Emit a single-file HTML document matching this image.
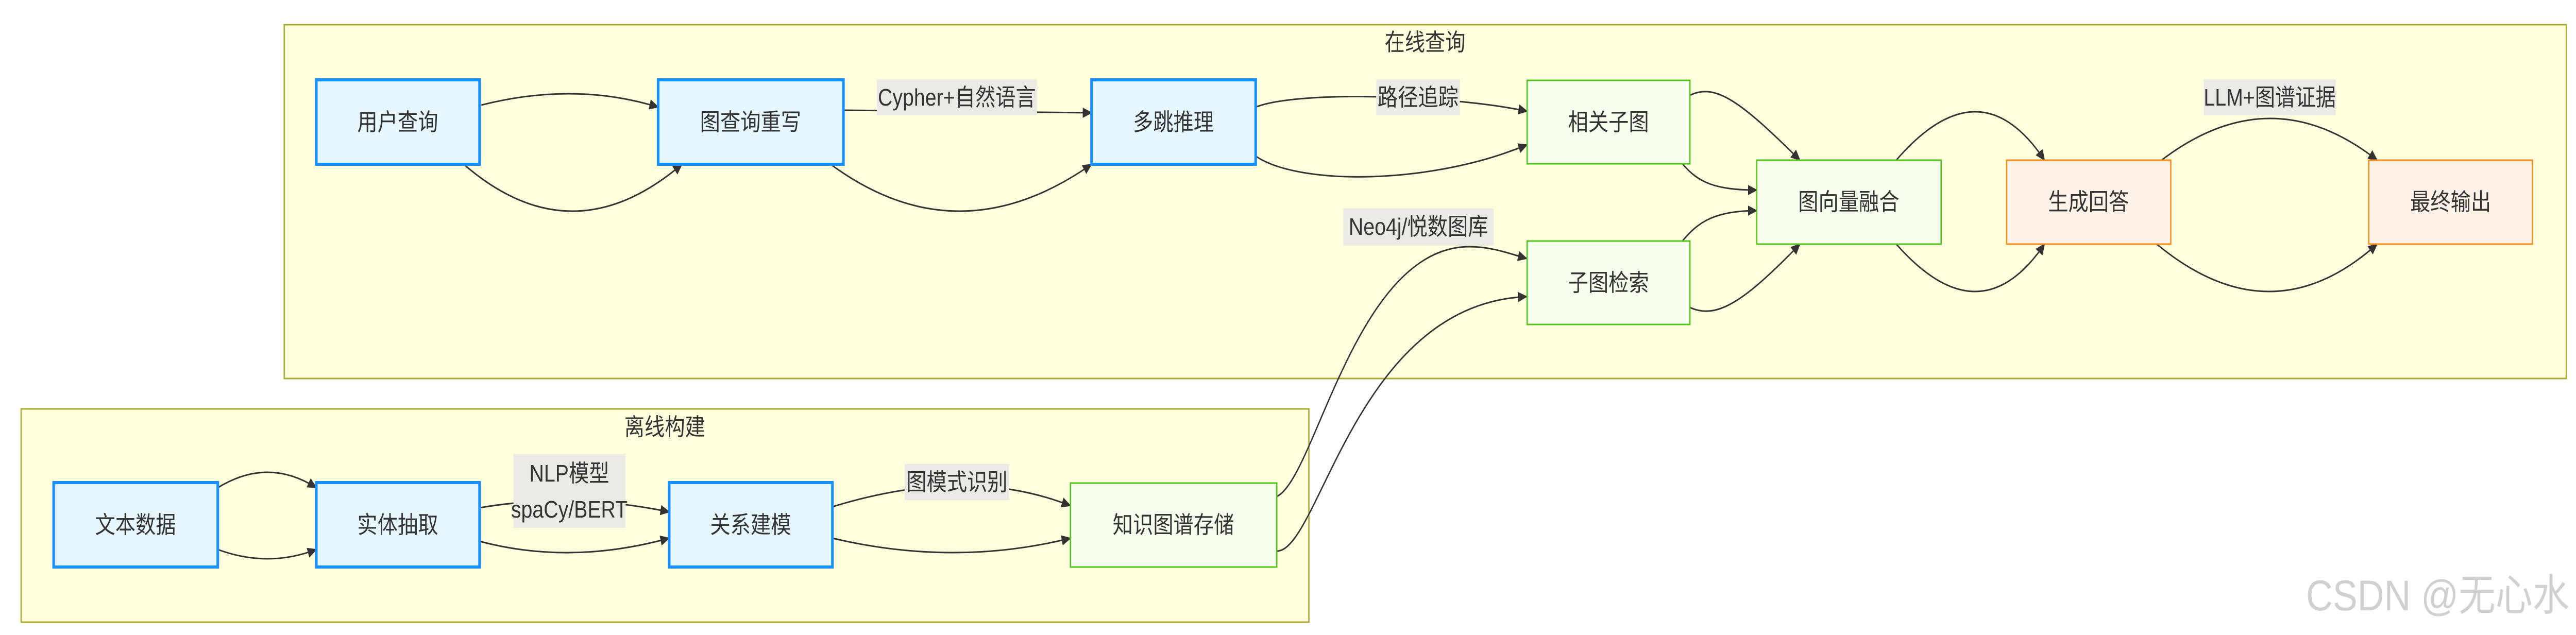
<!DOCTYPE html>
<html><head><meta charset="utf-8"><style>
html,body{margin:0;padding:0;background:#fff;width:100vw;height:100vh;overflow:hidden;}
svg{display:block;width:100vw;height:100vh;}
text{font-family:"Liberation Sans","Noto Sans CJK SC",sans-serif;fill:#333;}
</style></head><body>
<svg viewBox="0 0 5855 1233" preserveAspectRatio="none" xmlns="http://www.w3.org/2000/svg">
<defs>
<marker id="a" markerWidth="24" markerHeight="24" refX="20" refY="12" orient="auto" markerUnits="userSpaceOnUse">
<path d="M0,2 L22,12 L0,22 z" fill="#333"/>
</marker>
</defs>
<rect x="646" y="48" width="5187" height="687" fill="#ffffde" stroke="#aaaa33" stroke-width="3"/>
<rect x="48" y="794" width="2927" height="414" fill="#ffffde" stroke="#aaaa33" stroke-width="3"/>
<text x="3239" y="98" font-size="46" text-anchor="middle">在线查询</text>
<text x="1511" y="845" font-size="46" text-anchor="middle">离线构建</text>

<g fill="none" stroke="#333" stroke-width="3" marker-end="url(#a)">
<path d="M1094,204 Q1307,158 1496,208"/>
<path d="M1054,319 Q1300,501 1550,319"/>
<path d="M1917,214 L2481,219"/>
<path d="M1888,319 Q2177,501 2481,319"/>
<path d="M2854,208 C2950,175 3300,185 3471,216"/>
<path d="M2854,303 C2950,360 3250,360 3471,281"/>
<path d="M3841,185 C3900,160 3960,200 4091,311"/>
<path d="M3824,318 C3860,355 3900,369 3993,369"/>
<path d="M3824,468 C3860,430 3900,409 3993,409"/>
<path d="M3841,597 C3900,620 3960,590 4091,474"/>
<path d="M4310,311 Q4500,123 4647,311"/>
<path d="M4310,474 Q4500,658 4647,474"/>
<path d="M4913,311 Q5162,149 5403,311"/>
<path d="M4902,474 Q5162,658 5403,474"/>
<path d="M2902,964 C2990,930 3080,479 3340,479 C3390,479 3430,492 3470,502"/>
<path d="M2902,1070 C3000,1070 3080,590 3470,576"/>
<path d="M495,947 Q609,887 719,947"/>
<path d="M495,1067 Q609,1103 719,1067"/>
<path d="M1090,986 Q1300,955 1521,994"/>
<path d="M1090,1051 Q1296,1098 1521,1045"/>
<path d="M1892,984 Q2200,903 2433,982"/>
<path d="M1892,1045 Q2170,1101 2433,1045"/>
</g>

<g font-size="46" text-anchor="middle">
<rect x="1993" y="154" width="364" height="70" fill="#eaeae5"/>
<text x="2175" y="205">Cypher+自然语言</text>
<rect x="3128" y="154" width="190" height="70" fill="#eaeae5"/>
<text x="3223" y="205">路径追踪</text>
<rect x="3053" y="405" width="342" height="72" fill="#eaeae5"/>
<text x="3224" y="456">Neo4j/悦数图库</text>
<rect x="5009" y="154" width="300" height="70" fill="#eaeae5"/>
<text x="5159" y="205">LLM+图谱证据</text>
<rect x="1167" y="882" width="255" height="143" fill="#eaeae5"/>
<text x="1294" y="935">NLP模型</text>
<text x="1294" y="1005">spaCy/BERT</text>
<rect x="2056" y="901" width="238" height="70" fill="#eaeae5"/>
<text x="2175" y="952">图模式识别</text>
</g>

<g font-size="46" text-anchor="middle">
<g fill="#e6f7ff" stroke="#1890ff" stroke-width="6">
<rect x="719" y="155" width="371" height="164"/>
<rect x="1496" y="155" width="421" height="164"/>
<rect x="2481" y="155" width="373" height="164"/>
<rect x="122" y="937" width="373" height="164"/>
<rect x="719" y="937" width="371" height="164"/>
<rect x="1521" y="937" width="371" height="164"/>
</g>
<g fill="#f6ffed" stroke="#52c41a" stroke-width="3">
<rect x="3471" y="156" width="370" height="162"/>
<rect x="3471" y="468" width="370" height="162"/>
<rect x="3993" y="311" width="419" height="163"/>
<rect x="2433" y="938" width="469" height="163"/>
</g>
<g fill="#fff2e8" stroke="#fa8c16" stroke-width="3">
<rect x="4561" y="311" width="373" height="163"/>
<rect x="5384" y="311" width="372" height="163"/>
</g>
<text x="904" y="253">用户查询</text>
<text x="1706" y="253">图查询重写</text>
<text x="2667" y="253">多跳推理</text>
<text x="308" y="1035">文本数据</text>
<text x="904" y="1035">实体抽取</text>
<text x="1706" y="1035">关系建模</text>
<text x="2667" y="1035">知识图谱存储</text>
<text x="3656" y="253">相关子图</text>
<text x="3656" y="565">子图检索</text>
<text x="4202" y="408">图向量融合</text>
<text x="4747" y="408">生成回答</text>
<text x="5570" y="408">最终输出</text>
</g>
<text x="5840" y="1185" font-size="84" text-anchor="end" style="fill:#d0d0d0">CSDN @无心水</text>
</svg>
</body></html>
